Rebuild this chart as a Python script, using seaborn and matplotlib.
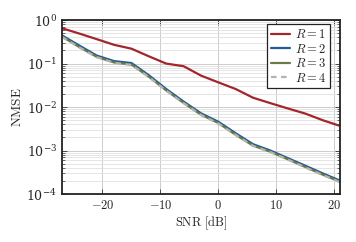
import numpy as np
import pandas as pd
import matplotlib
matplotlib.use('Agg')
import matplotlib.pyplot as plt
import matplotlib.ticker as mticker
import seaborn as sns

# SNR grid and NMSE values
snr_db = [-27, -24, -21, -18, -15, -12, -9, -6, -3, 0, 3, 6, 9, 12, 15, 18, 21]
nmse_r1 = [0.65, 0.49, 0.365, 0.27, 0.22, 0.147, 0.10, 0.087, 0.053, 0.037, 0.026,
           0.0164, 0.0123, 0.0093, 0.0071, 0.0050, 0.0037]
nmse_r2 = [0.445, 0.26, 0.153, 0.114, 0.103, 0.054, 0.026, 0.0134, 0.0072, 0.0046,
           0.0025, 0.0014, 0.0010, 0.00067, 0.00045, 0.00030, 0.000204]
nmse_r3 = [0.42, 0.24, 0.143, 0.106, 0.095, 0.050, 0.0242, 0.0125, 0.0067, 0.0043,
           0.0023, 0.0013, 0.00094, 0.00063, 0.00042, 0.00028, 0.000192]
nmse_r4 = [0.41, 0.235, 0.140, 0.104, 0.093, 0.049, 0.0238, 0.0123, 0.0066, 0.0042,
           0.00228, 0.00128, 0.00092, 0.00062, 0.00041, 0.000275, 0.000188]
labels = ['$R = 1$', '$R = 2$', '$R = 3$', '$R = 4$']
colors = ['#a3262b', '#1f5c9c', '#6c7b45', '#b3b3b3']

df = pd.DataFrame({
    'snr': snr_db * 4,
    'nmse': nmse_r1 + nmse_r2 + nmse_r3 + nmse_r4,
    'series': sum([[lab] * len(snr_db) for lab in labels], []),
})

sns.set_style('ticks')
plt.rcParams['font.family'] = ['DejaVu Serif']
plt.rcParams['mathtext.fontset'] = 'cm'
plt.rcParams['font.size'] = 9

fig = plt.figure(figsize=(3.56, 2.42), dpi=100)
ax = fig.add_axes([0.174, 0.198, 0.781, 0.719])

for lab, col in zip(labels, colors):
    sub = df[df['series'] == lab]
    ls = (0, (2.5, 2.0)) if lab == '$R = 4$' else '-'
    sns.lineplot(data=sub, x='snr', y='nmse', ax=ax, color=col, linewidth=1.6,
                 linestyle=ls, label=lab)

ax.set_yscale('log')
ax.set_xlim(-27, 21)
ax.set_ylim(1e-4, 1)
ax.xaxis.set_major_locator(mticker.MultipleLocator(10))
ax.xaxis.set_major_formatter(mticker.FuncFormatter(lambda v, p: r'$%d$' % v))
ax.yaxis.set_major_locator(mticker.LogLocator(base=10, numticks=10))
ax.yaxis.set_minor_locator(mticker.LogLocator(base=10, subs=np.arange(2, 10), numticks=10))
ax.yaxis.set_minor_formatter(mticker.NullFormatter())

ax.grid(which='major', color='#cccccc', linewidth=0.7)
ax.grid(which='minor', axis='y', color='#e0e0e0', linewidth=0.6)
ax.set_axisbelow(True)

ax.tick_params(which='both', direction='in', top=True, right=True, color='#333333')
ax.tick_params(which='major', length=3.5, width=0.6, labelsize=9)
ax.tick_params(which='minor', length=2, width=0.5)
for s in ax.spines.values():
    s.set_linewidth(1.3)
    s.set_color('#222222')

ax.set_xlabel(r'$\mathrm{SNR\ [dB]}$', fontsize=9, labelpad=2)
ax.set_ylabel(r'$\mathrm{NMSE}$', fontsize=9.5, labelpad=2)

leg = ax.legend(loc='upper right', bbox_to_anchor=(0.965, 0.975), fontsize=9,
                frameon=True, fancybox=False, edgecolor='#222222', framealpha=1,
                handlelength=1.55, borderpad=0.3, labelspacing=0.12,
                handletextpad=0.4, borderaxespad=0.0)
leg.get_frame().set_linewidth(0.9)

fig.savefig('out.png', dpi=100)
